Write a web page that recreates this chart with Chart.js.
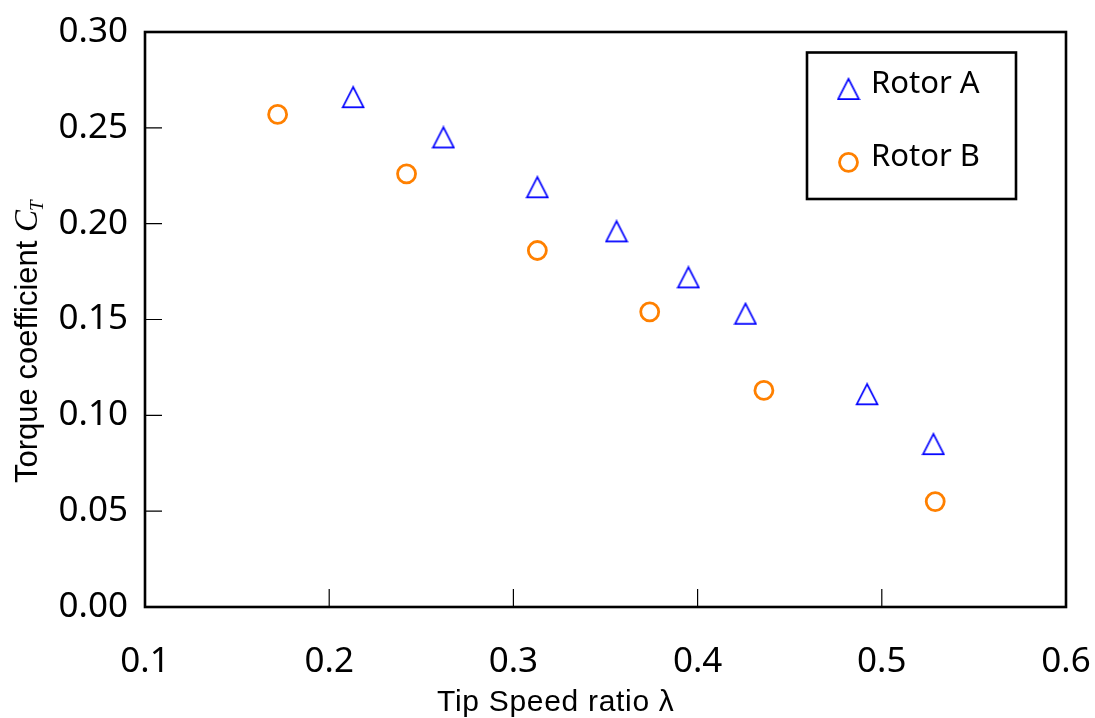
<!DOCTYPE html>
<html>
<head>
<meta charset="utf-8">
<title>Torque coefficient vs tip speed ratio</title>
<script src="https://cdn.jsdelivr.net/npm/chart.js@4.4.1/dist/chart.umd.min.js"></script>
<style>
  html, body { margin: 0; padding: 0; background: #fff; }
  #chart { display: block; }
</style>
</head>
<body>
<canvas id="chart" width="1095" height="718"></canvas>
<script>
// 周速比 λ とトルク係数 C_T
const rotorA_lambda = [0.213, 0.262, 0.313, 0.356, 0.395, 0.426, 0.492, 0.528];
const rotorA_ct     = [0.266, 0.245, 0.219, 0.196, 0.172, 0.153, 0.111, 0.085];
const rotorB_lambda = [0.172, 0.242, 0.313, 0.374, 0.436, 0.529];
const rotorB_ct     = [0.257, 0.226, 0.186, 0.154, 0.113, 0.055];
const seriesNames = ['Rotor A', 'Rotor B'];
const xTicks = [0.1, 0.2, 0.3, 0.4, 0.5, 0.6];
const yTicks = [0, 0.05, 0.10, 0.15, 0.20, 0.25, 0.30];

const BLUE = '#0000ff';
const ORANGE = '#ff8000';
const TICK_FONT = '"Noto Sans", "Noto Sans CJK JP", sans-serif';
const TITLE_FONT = '"Liberation Sans", Arial, sans-serif';

// 白抜き三角マーカー（外接矩形の中心が点の位置）
function makeTriangle(color) {
  const c = document.createElement('canvas');
  c.width = 24; c.height = 24;
  const g = c.getContext('2d');
  g.strokeStyle = color;
  g.lineWidth = 1.7;
  g.beginPath();
  g.moveTo(12, 1.8);
  g.lineTo(1.6, 22.2);
  g.lineTo(22.4, 22.2);
  g.closePath();
  g.stroke();
  return c;
}
const triMarker = makeTriangle(BLUE);

function toPoints(xs, ys) {
  return xs.map((x, i) => ({ x: x, y: ys[i] }));
}

// 枠線・内向き目盛り・軸タイトル・凡例
const framePlugin = {
  id: 'frame',
  afterDraw(chart) {
    const ctx = chart.ctx;
    const a = chart.chartArea;
    const sx = chart.scales.x, sy = chart.scales.y;

    ctx.save();
    ctx.strokeStyle = '#000';
    ctx.lineWidth = 1.2;
    ctx.beginPath();
    xTicks.forEach(v => {
      const px = sx.getPixelForValue(v);
      ctx.moveTo(px, a.bottom);
      ctx.lineTo(px, a.bottom - 18);
    });
    yTicks.forEach(v => {
      const py = sy.getPixelForValue(v);
      ctx.moveTo(a.left, py);
      ctx.lineTo(a.left + 17, py);
    });
    ctx.stroke();

    ctx.lineWidth = 2.6;
    ctx.strokeRect(a.left, a.top, a.right - a.left, a.bottom - a.top);

    // x軸タイトル
    ctx.fillStyle = '#000';
    ctx.font = '30px ' + TITLE_FONT;
    ctx.textAlign = 'left';
    ctx.textBaseline = 'alphabetic';
    ctx.letterSpacing = '0.7px';
    ctx.fillText('Tip Speed ratio \u03bb', 437, 711);
    ctx.letterSpacing = '0px';

    // y軸タイトル（C_T は斜体＋下付き）
    ctx.save();
    ctx.translate(36.5, 483);
    ctx.rotate(-Math.PI / 2);
    ctx.font = '31px ' + TITLE_FONT;
    const head = 'Torque coefficient ';
    ctx.fillText(head, 0, 0);
    let w = ctx.measureText(head).width;
    ctx.font = 'italic 33px "Liberation Serif", serif';
    ctx.fillText('C', w, 0);
    w += ctx.measureText('C').width;
    ctx.font = 'italic 19px "Liberation Serif", serif';
    ctx.fillText('T', w - 1, 6);
    ctx.restore();

    // 凡例
    ctx.lineWidth = 2.6;
    ctx.strokeRect(807, 52.5, 209, 146.5);
    const rows = [89, 162.3];
    ctx.font = '31px ' + TICK_FONT;
    chart.data.datasets.forEach((ds, i) => {
      const cy = rows[i];
      if (ds.pointStyle === 'circle') {
        ctx.beginPath();
        ctx.strokeStyle = ds.borderColor;
        ctx.lineWidth = ds.borderWidth;
        ctx.arc(848.5, cy, ds.pointRadius, 0, Math.PI * 2);
        ctx.stroke();
      } else {
        const img = ds.pointStyle;
        ctx.drawImage(img, 848.5 - img.width / 2, cy - img.height / 2);
      }
      ctx.fillStyle = '#000';
      ctx.fillText(ds.label, 871, cy + 3.5);
    });
    ctx.restore();
  }
};

new Chart(document.getElementById('chart'), {
  type: 'scatter',
  data: {
    datasets: [
      {
        label: seriesNames[0],
        data: toPoints(rotorA_lambda, rotorA_ct),
        pointStyle: triMarker,
        pointRadius: 11,
        borderColor: BLUE,
        backgroundColor: 'rgba(0,0,0,0)'
      },
      {
        label: seriesNames[1],
        data: toPoints(rotorB_lambda, rotorB_ct),
        pointStyle: 'circle',
        pointRadius: 9,
        borderWidth: 2.8,
        borderColor: ORANGE,
        backgroundColor: 'rgba(0,0,0,0)'
      }
    ]
  },
  options: {
    responsive: false,
    animation: false,
    devicePixelRatio: 1,
    layout: { padding: { left: 0, top: 32, right: 29, bottom: 0 } },
    plugins: {
      legend: { display: false },
      tooltip: { enabled: false }
    },
    scales: {
      x: {
        type: 'linear',
        min: 0.1,
        max: 0.6,
        afterBuildTicks: s => { s.ticks = xTicks.map(v => ({ value: v })); },
        afterFit: s => { s.height = 111; s.paddingLeft = 0; s.paddingRight = 0; },
        grid: { display: false, drawTicks: false },
        border: { display: false },
        ticks: {
          padding: 34,
          color: '#000',
          maxRotation: 0,
          font: { family: TICK_FONT, size: 35 },
          callback: v => Number(v).toFixed(1)
        }
      },
      y: {
        type: 'linear',
        min: 0,
        max: 0.30,
        afterBuildTicks: s => { s.ticks = yTicks.map(v => ({ value: v })); },
        afterFit: s => { s.width = 145; s.paddingTop = 0; s.paddingBottom = 0; },
        grid: { display: false, drawTicks: false },
        border: { display: false },
        ticks: {
          padding: 17,
          color: '#000',
          font: { family: TICK_FONT, size: 35 },
          callback: v => Number(v).toFixed(2)
        }
      }
    }
  },
  plugins: [framePlugin]
});
</script>
</body>
</html>
